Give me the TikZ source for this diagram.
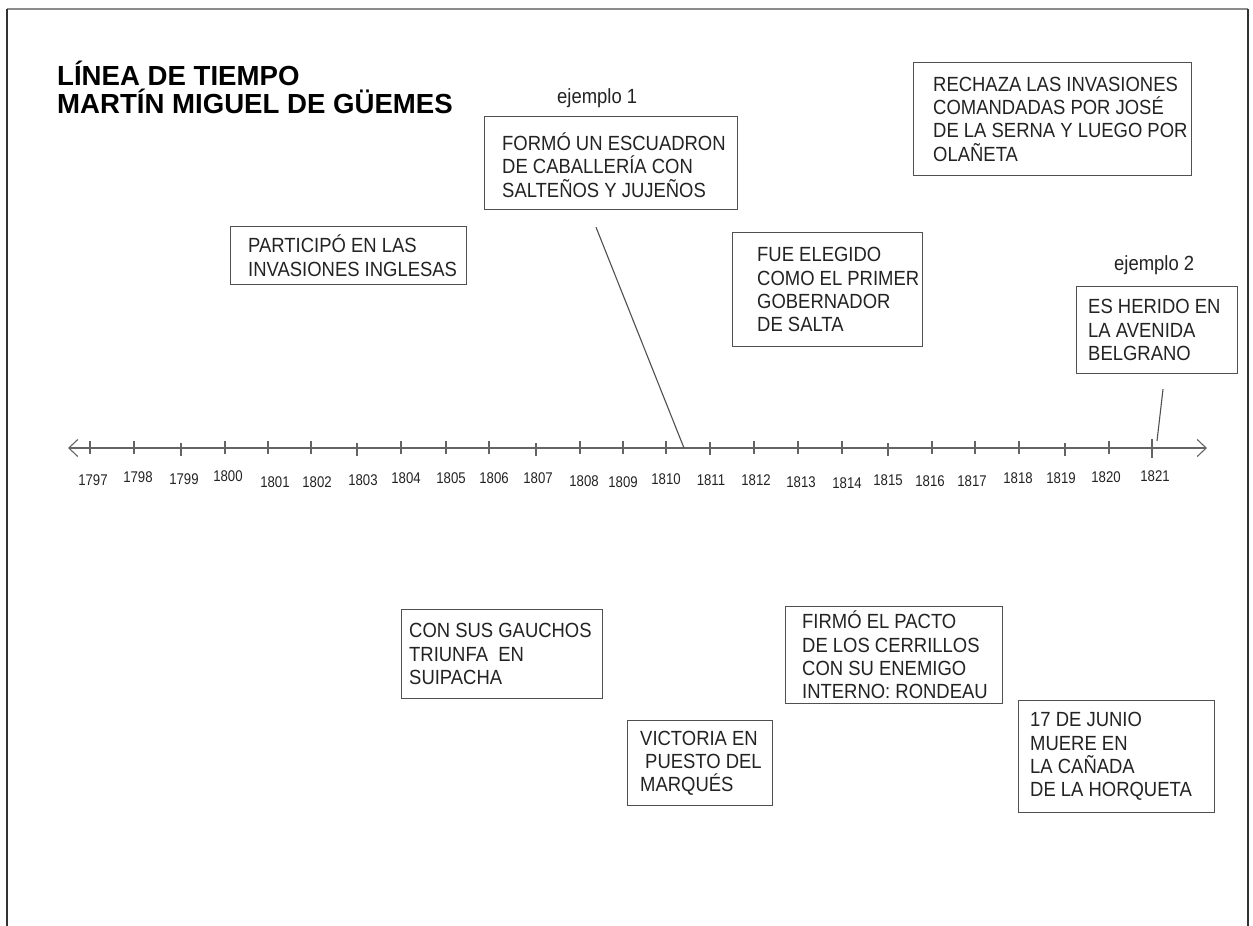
\documentclass[tikz,border=0pt]{standalone}
\usepackage{fontspec}
\setmainfont{Liberation Sans}
\newfontfamily\boxfont[FakeStretch=0.9]{Liberation Sans}
\newfontfamily\yearfont[FakeStretch=0.85]{Liberation Sans}
\usetikzlibrary{arrows.meta,calc}
\definecolor{boxline}{RGB}{80,80,80}
\definecolor{txtcol}{RGB}{35,35,35}
\definecolor{axiscol}{RGB}{100,100,100}
\definecolor{framedark}{RGB}{50,50,50}
\definecolor{framegray}{RGB}{140,140,140}
\begin{document}
\begin{tikzpicture}[x=1pt,y=-1pt,
  evbox/.style={draw=boxline,line width=1.2pt,anchor=north west,inner sep=0pt},
  evtext/.style={anchor=west,align=left,inner sep=0pt,text=txtcol,font=\boxfont\fontsize{20.5}{23.3}\selectfont},
  titletext/.style={anchor=base west,inner sep=0pt,text=black,font=\bfseries\fontsize{27.6}{30}\selectfont},
  exlabel/.style={anchor=base west,inner sep=0pt,text=txtcol,font=\boxfont\fontsize{20.5}{23.3}\selectfont},
  yearlbl/.style={inner sep=0pt,text=txtcol,font=\yearfont\fontsize{15.5}{17}\selectfont},
  axisline/.style={draw=axiscol,line width=1.3pt},
  tickline/.style={draw=axiscol,line width=1.1pt},
  conn/.style={draw=boxline,line width=1.1pt},
  barb/.tip={Straight Barb[length=9pt,width=17pt,line width=1.1pt]}]
\useasboundingbox (0,0) rectangle (1253,926);
\fill[white] (0,0) rectangle (1253,926);
% frame
\draw[framegray,line width=1.6pt] (7,9) -- (1248,9);
\draw[framedark,line width=2pt] (7,9) -- (7,926);
\draw[framedark,line width=2pt] (1248,9) -- (1248,926);
% title
\node[titletext] (title1) at (57,85) {LÍNEA DE TIEMPO};
\node[titletext] (title2) at (57,113) {MARTÍN MIGUEL DE GÜEMES};
\node[exlabel] (ej1) at (557,103) {ejemplo 1};
\node[exlabel] (ej2) at (1114,270) {ejemplo 2};
% upper boxes
\node[evbox,minimum width=236pt,minimum height=58pt] (b1) at (230,226) {};
\node[evtext] (t1) at ($(b1.west)+(18,0)$) {PARTICIPÓ EN LAS\\INVASIONES INGLESAS};
\node[evbox,minimum width=253pt,minimum height=93pt] (b2) at (484,116) {};
\node[evtext] (t2) at ($(b2.west)+(18,2)$) {FORMÓ UN ESCUADRON\\DE CABALLERÍA CON\\SALTEÑOS Y JUJEÑOS};
\node[evbox,minimum width=278pt,minimum height=113pt] (b3) at (913,62) {};
\node[evtext] (t3) at ($(b3.west)+(20,0)$) {RECHAZA LAS INVASIONES\\COMANDADAS POR JOSÉ\\DE LA SERNA Y LUEGO POR\\OLAÑETA};
\node[evbox,minimum width=190pt,minimum height=114pt] (b4) at (732,232) {};
\node[evtext] (t4) at ($(b4.west)+(25,0)$) {FUE ELEGIDO\\COMO EL PRIMER\\GOBERNADOR\\DE SALTA};
\node[evbox,minimum width=161pt,minimum height=87pt] (b5) at (1076,286) {};
\node[evtext] (t5) at ($(b5.west)+(12,0)$) {ES HERIDO EN\\LA AVENIDA\\BELGRANO};
% lower boxes
\node[evbox,minimum width=201pt,minimum height=89pt] (b6) at (401,609) {};
\node[evtext] (t6) at ($(b6.west)+(8,0)$) {CON SUS GAUCHOS\\TRIUNFA\ \ EN\\SUIPACHA};
\node[evbox,minimum width=145pt,minimum height=85pt] (b7) at (627,720) {};
\node[evtext] (t7) at ($(b7.west)+(13,0)$) {VICTORIA EN\\\hspace*{5pt}PUESTO DEL\\MARQUÉS};
\node[evbox,minimum width=217pt,minimum height=97pt] (b8) at (785,606) {};
\node[evtext] (t8) at ($(b8.west)+(17,0)$) {FIRMÓ EL PACTO\\DE LOS CERRILLOS\\CON SU ENEMIGO\\INTERNO: RONDEAU};
\node[evbox,minimum width=196pt,minimum height=112pt] (b9) at (1018,700) {};
\node[evtext] (t9) at ($(b9.west)+(12,0)$) {17 DE JUNIO\\MUERE EN\\LA CAÑADA\\DE LA HORQUETA};
% axis
\coordinate (axL) at (68,448);
\coordinate (axR) at (1207,448);
\draw[axisline,{barb}-{barb}] (axL) -- (axR);
\foreach \tx/\ta/\tb [count=\i] in {90/441/454,134/441/454,181/443/456,225/441/454,268/441/454,311/441/454,357/443/456,401/441/454,446/441/454,489/441/454,536/443/456,580/441/454,623/441/454,666/441/454,710/442/455,754/441/454,798/441/454,842/441/454,888/443/456,932/441/454,975/441/454,1019/441/454,1065/443/456,1109/441/454,1152/439/458}{
  \coordinate (tk\i a) at (\tx,\ta);
  \coordinate (tk\i b) at (\tx,\tb);
  \draw[tickline] (tk\i a) -- (tk\i b);
}
\foreach \yr/\xx/\yy in {1797/93/480,1798/138/477,1799/184/479,1800/228/476,1801/275/482,1802/317/482,1803/363/480,1804/406/478,1805/451/478,1806/494/478,1807/538/478,1808/584/481,1809/623/482,1810/666/479,1811/711/480,1812/756/480,1813/801/482,1814/847/483,1815/888/480,1816/930/481,1817/972/481,1818/1018/478,1819/1061/478,1820/1106/477,1821/1155/476}{
  \node[yearlbl] (y\yr) at (\xx,\yy) {\yr};
}
% connectors
\coordinate (c1a) at ($(b2.south west)+(112,17)$);
\coordinate (c1b) at (684,448);
\draw[conn] (c1a) -- (c1b);
\coordinate (c2a) at ($(b5.south west)+(87,15)$);
\coordinate (c2b) at (1157,441);
\draw[conn] (c2a) -- (c2b);
\end{tikzpicture}
\end{document}
